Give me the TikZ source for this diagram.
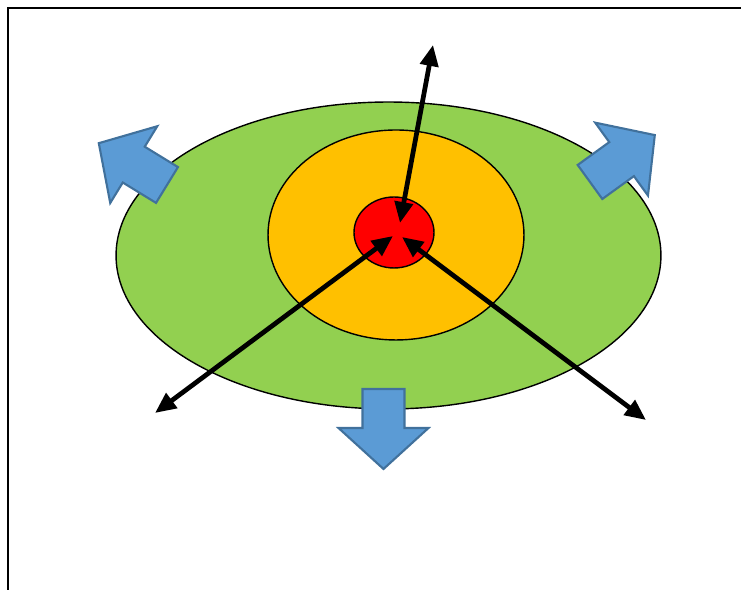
\documentclass[tikz,border=0pt]{standalone}
\usepackage{tikz}
\usetikzlibrary{shapes.geometric, arrows.meta}
\definecolor{ringgreen}{HTML}{92D050}
\definecolor{ringorange}{HTML}{FFC000}
\definecolor{ringred}{HTML}{FF0000}
\definecolor{pushfill}{HTML}{5B9BD5}
\definecolor{pushedge}{HTML}{41719C}
\tikzset{
    zone/.style={ellipse, draw=black, line width=0.8pt, inner sep=0pt, outer sep=0pt},
    frameline/.style={draw=black, line width=1.4pt},
    spread/.style={line width=0.095cm, {Triangle[length=0.42cm, width=0.36cm]}-{Triangle[length=0.42cm, width=0.36cm]}},
    blockarrow/.pic={
        \draw [fill=pushfill, draw=pushedge, line width=1.2pt, line join=miter]
            (0,-21) -- (39,-21) -- (39,-45) -- (80,0) -- (39,45) -- (39,21) -- (0,21) -- cycle;
    }
}
\begin{document}
\begin{tikzpicture}[x=0.02cm, y=0.02cm]
    \useasboundingbox (0,0) rectangle (741,590);
    \draw [frameline] (745,582) -- (8,582) -- (8,-5);

    \node (outer) [zone, fill=ringgreen, minimum width=10.9cm, minimum height=6.14cm] at (388.5,334.5) {};
    \node (middle) [zone, fill=ringorange, minimum width=5.12cm, minimum height=4.2cm] at (396,355) {};
    \node (core) [zone, fill=ringred, minimum width=1.6cm, minimum height=1.42cm] at (394,357.5) {};

    \pic (pushleft) [rotate=148.5] at (167,405) {blockarrow};
    \pic (pushright) [rotate=35.9] at (590,408) {blockarrow};
    \pic (pushdown) [rotate=-90] at (383.5,201) {blockarrow};

    \coordinate (topend) at (433,545);
    \coordinate (coretop) at (400,367);
    \coordinate (leftend) at (155,177);
    \coordinate (coreleft) at (393,354);
    \coordinate (rightend) at (646,170);
    \coordinate (coreright) at (402,353);

    \draw [spread] (topend) -- (coretop);
    \draw [spread] (leftend) -- (coreleft);
    \draw [spread] (rightend) -- (coreright);
\end{tikzpicture}
\end{document}
